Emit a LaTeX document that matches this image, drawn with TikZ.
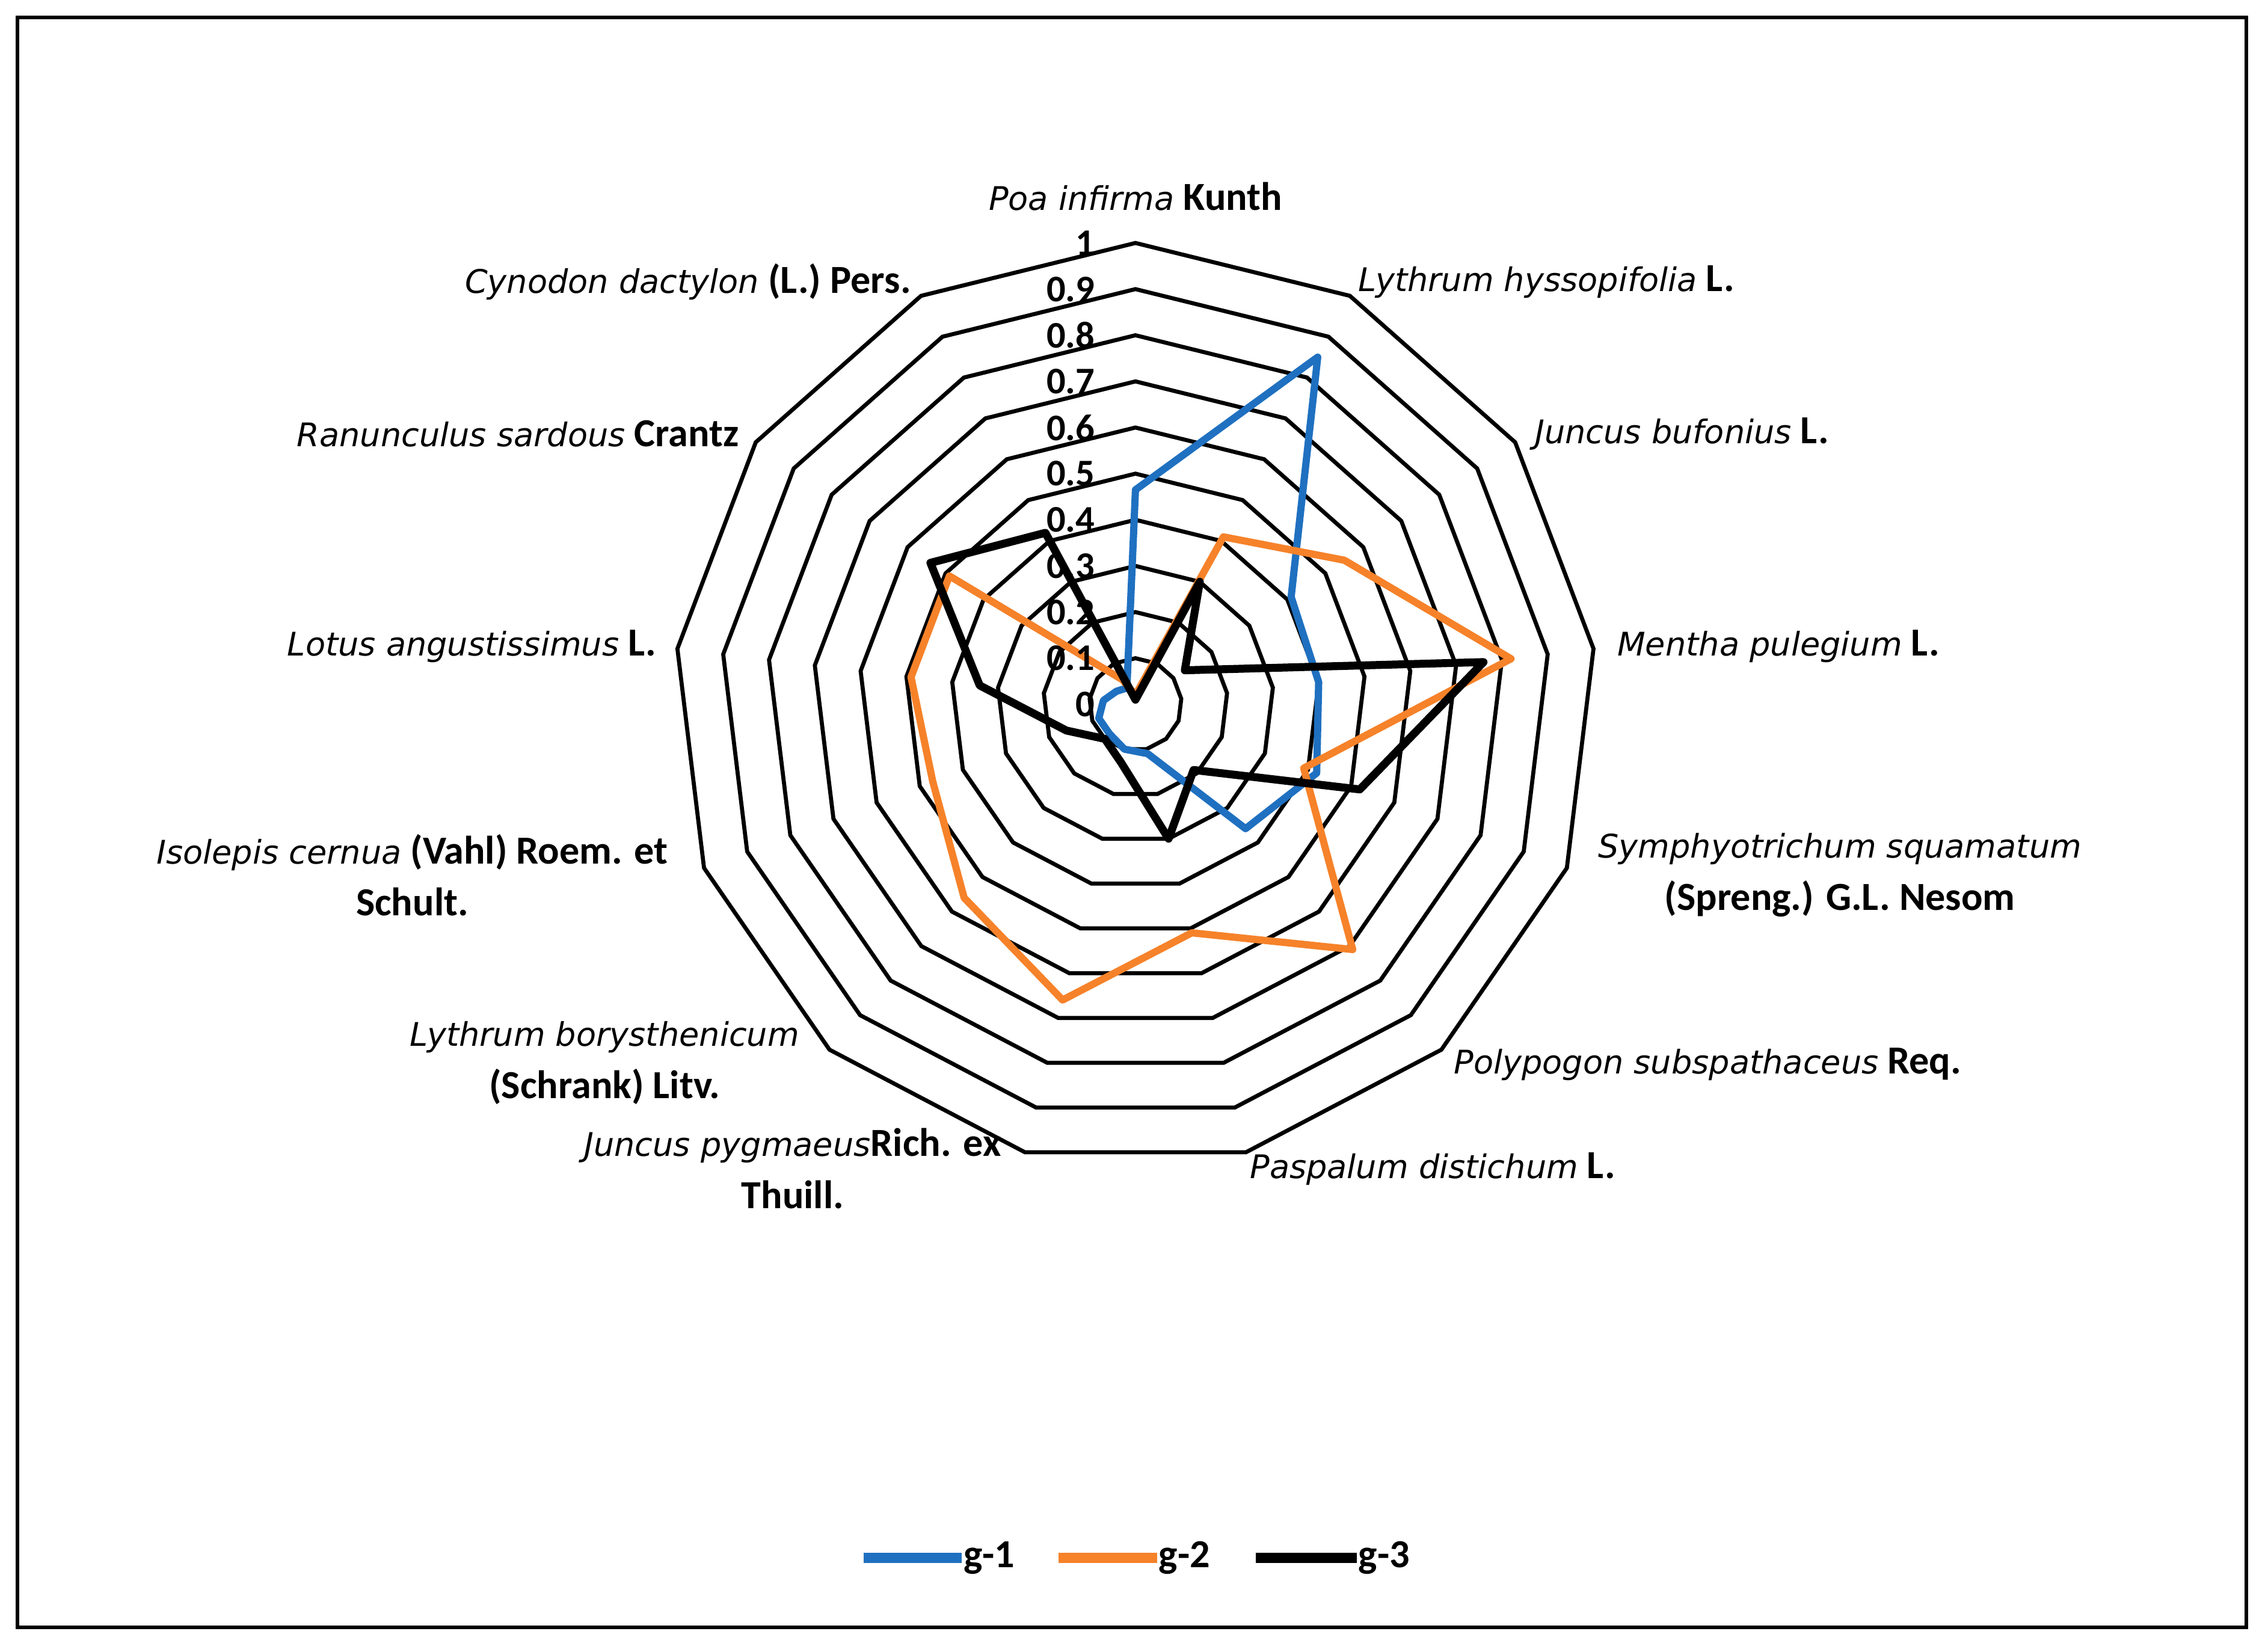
\documentclass[tikz,border=0pt]{standalone}
\usepackage{fontspec}
\setmainfont{Carlito}
\newfontfamily\spitfam{DejaVu Sans}
\newcommand{\Sp}[1]{{\spitfam\mdseries\itshape\fontsize{22.5}{26}\selectfont #1}}
\begin{document}
\begin{tikzpicture}[x=1pt,y=1pt,
  lab/.style={font=\bfseries\fontsize{27.5}{36}\selectfont,inner sep=1pt},
  tick/.style={font=\bfseries\fontsize{26}{26}\selectfont,inner sep=0pt},
  grid/.style={line width=2.8pt,line join=miter},
  g1/.style={line width=5pt,color=c1,line join=round},
  g2/.style={line width=5pt,color=c2,line join=round},
  g3/.style={line width=5.5pt,color=black,line join=round},
  key/.style={line width=7pt}]
\definecolor{c1}{RGB}{31,112,192}
\definecolor{c2}{RGB}{246,130,42}
\useasboundingbox (0,0) rectangle (1568,-1142);
\node[draw=black,line width=2.5pt,minimum width=1541pt,minimum height=1113pt,inner sep=0pt] (frame) at (782.5,-568.5) {};
\begin{scope}[shift={(785,-487)}]
  \foreach \r in {1,...,10}{
    \draw[grid] (90:{\r*31.9}) \foreach \k in {1,...,12}{ -- ({90-\k*360/13}:{\r*31.9})} -- cycle;
  }
  \foreach \v [count=\k from 0] in {0.465,0.85,0.41,0.40,0.42,0.36,0.11,0.10,0.085,0.085,0.07,0.05,0.04}
    \coordinate (a\k) at ({90-\k*360/13}:{\v*319});
  \foreach \v [count=\k from 0] in {0.02,0.41,0.55,0.82,0.39,0.71,0.51,0.66,0.56,0.47,0.49,0.49,0.06}
    \coordinate (b\k) at ({90-\k*360/13}:{\v*319});
  \foreach \v [count=\k from 0] in {0.01,0.30,0.13,0.76,0.52,0.19,0.30,0.13,0.10,0.16,0.34,0.54,0.42}
    \coordinate (c\k) at ({90-\k*360/13}:{\v*319});
  \draw[g1] (a0) \foreach \k in {1,...,12}{ -- (a\k)} -- cycle;
  \draw[g2] (b0) \foreach \k in {1,...,12}{ -- (b\k)} -- cycle;
  \draw[g3] (c0) \foreach \k in {1,...,12}{ -- (c\k)} -- cycle;
  \foreach \t [count=\i from 0] in {0,0.1,0.2,0.3,0.4,0.5,0.6,0.7,0.8,0.9,1}
    \node[tick,anchor=east] (t\i) at (-28,{\i*31.9}) {\t};
\end{scope}
\node[lab] (l0) at (785,-136) {\Sp{Poa infirma} Kunth};
\node[lab,anchor=west] (l1) at (938,-195) {\Sp{Lythrum hyssopifolia} L.};
\node[lab,anchor=west] (l2) at (1060,-300) {\Sp{Juncus bufonius} L.};
\node[lab,anchor=west] (l3) at (1117,-447) {\Sp{Mentha pulegium} L.};
\node[lab,align=center] (l4) at (1272,-605) {\Sp{Symphyotrichum squamatum}\\(Spreng.) G.L. Nesom};
\node[lab,anchor=west] (l5) at (1004,-736) {\Sp{Polypogon subspathaceus} Req.};
\node[lab,anchor=west] (l6) at (863,-808) {\Sp{Paspalum distichum} L.};
\node[lab,align=center] (l7) at (548,-808) {\Sp{Juncus pygmaeus}Rich. ex\\Thuill.};
\node[lab,align=center] (l8) at (418,-735) {\Sp{Lythrum borysthenicum}\\(Schrank) Litv.};
\node[lab,align=center] (l9) at (285,-605) {\Sp{Isolepis cernua} (Vahl) Roem. et\\Schult.};
\node[lab,anchor=east] (l10) at (455,-447) {\Sp{Lotus angustissimus} L.};
\node[lab,anchor=east] (l11) at (512,-300) {\Sp{Ranunculus sardous} Crantz};
\node[lab,anchor=east] (l12) at (631,-195) {\Sp{Cynodon dactylon} (L.) Pers.};
\coordinate (k1a) at (597,-1077); \coordinate (k1b) at (665,-1077);
\coordinate (k2a) at (732,-1077); \coordinate (k2b) at (800,-1077);
\coordinate (k3a) at (868,-1077); \coordinate (k3b) at (938,-1077);
\draw[g1,key] (k1a) -- (k1b); \draw[g2,key] (k2a) -- (k2b); \draw[g3,key] (k3a) -- (k3b);
\node[lab,anchor=west] (n1) at (k1b) {g-1};
\node[lab,anchor=west] (n2) at (k2b) {g-2};
\node[lab,anchor=west] (n3) at (k3b) {g-3};
\end{tikzpicture}
\end{document}
